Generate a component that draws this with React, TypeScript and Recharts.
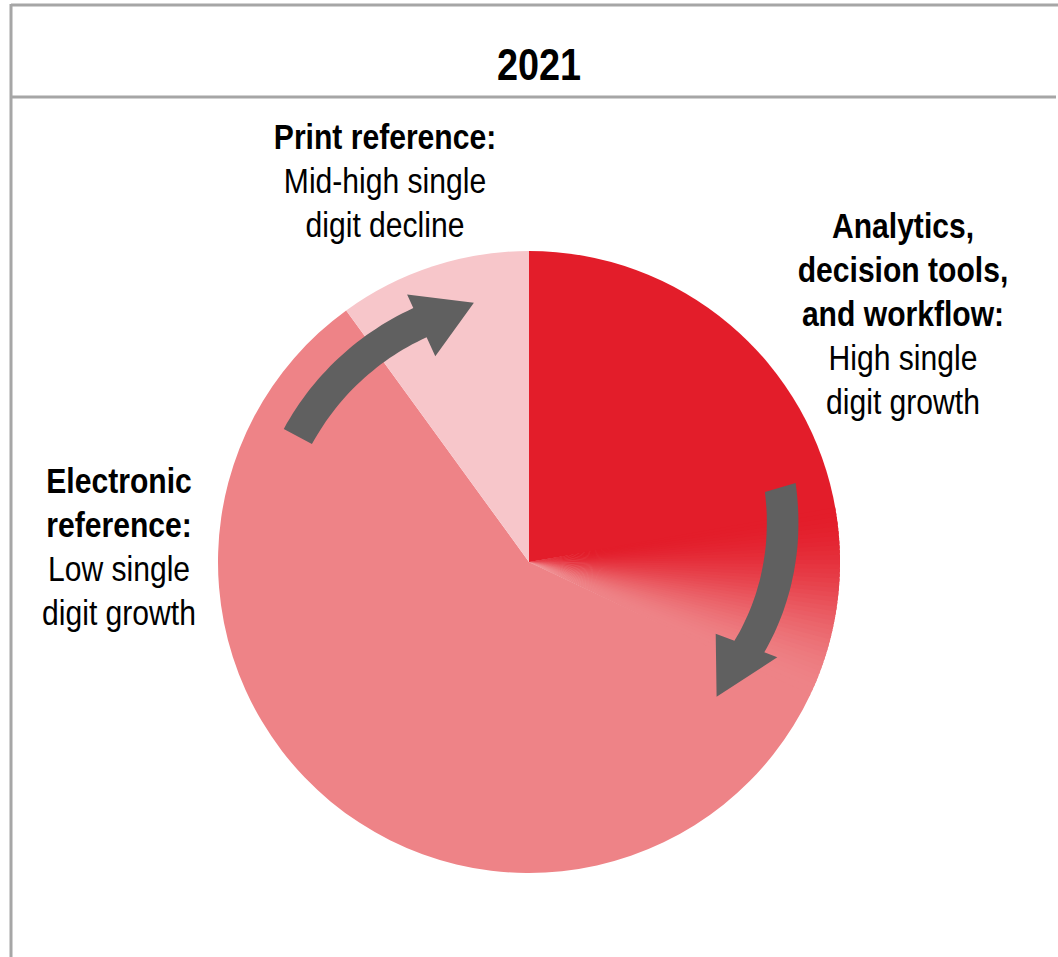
import { PieChart, Pie, Sector } from "recharts"

// data (share of the market, %)
const segments = ["Analytics, decision tools, and workflow", "Electronic reference", "Print reference"]
const shares = [32, 58, 10]

const titleText = "2021"
const labelHeads = [
  ["Analytics,", "decision tools,", "and workflow:"],
  ["Electronic", "reference:"],
  ["Print reference:"],
]
const labelBodies = [
  ["High single", "digit growth"],
  ["Low single", "digit growth"],
  ["Mid-high single", "digit decline"],
]

const COLORS = ["#E31D2A", "#EE8387", "#F7C6CA"]
const FONT = "'Liberation Sans', Arial, sans-serif"
const NARROW = 0.86
const W = 1058
const H = 957
const CX = 529
const CY = 562
const R = 311

const pieData = segments.map((name, i) => ({ name, value: shares[i] }))

function hexToRgb(h: string) {
  const n = parseInt(h.slice(1), 16)
  return [(n >> 16) & 255, (n >> 8) & 255, n & 255]
}

function mix(a: string, b: string, t: number) {
  const A = hexToRgb(a)
  const B = hexToRgb(b)
  return `rgb(${A.map((v, i) => Math.round(v + (B[i] - v) * t)).join(",")})`
}

// analytics slice fades into the electronic colour over its last part
function SliceShape(props: any) {
  const { index, endAngle } = props
  if (index !== 0) return <Sector {...props} stroke="none" />
  const blend = 35
  const solidEnd = endAngle + blend
  const steps = 40
  const parts = [<Sector key="solid" {...props} endAngle={solidEnd - 0.3} fill={COLORS[0]} stroke="none" />]
  for (let s = 0; s < steps; s++) {
    const a0 = solidEnd - (blend * s) / steps
    const a1 = solidEnd - (blend * (s + 1)) / steps
    const t = (s + 0.5) / steps
    const eased = t * t * (3 - 2 * t)
    parts.push(
      <Sector
        key={s}
        {...props}
        startAngle={a0 + 0.3}
        endAngle={a1 - 0.3}
        fill={mix(COLORS[0], COLORS[1], eased)}
        stroke="none"
      />
    )
  }
  return <g>{parts}</g>
}

function pt(angle: number, r: number) {
  const a = (angle * Math.PI) / 180
  return [CX + r * Math.sin(a), CY - r * Math.cos(a)]
}

// curved block arrow following the pie, angles clockwise from 12 o'clock
function arrowPath(a0: number, r0: number, a1: number, r1: number, half: number, wIn: number, wOut: number, tipA: number, tipR: number) {
  const n = 30
  const outer: number[][] = []
  const inner: number[][] = []
  for (let i = 0; i <= n; i++) {
    const t = i / n
    const a = a0 + (a1 - a0) * t
    const r = r0 + (r1 - r0) * t
    outer.push(pt(a, r + half))
    inner.push(pt(a, r - half))
  }
  const wingOut = pt(a1, r1 + wOut)
  const tip = pt(tipA, tipR)
  const wingIn = pt(a1, r1 - wIn)
  const pts = [...outer, wingOut, tip, wingIn, ...inner.reverse()]
  return "M" + pts.map((p) => p[0].toFixed(1) + "," + p[1].toFixed(1)).join("L") + "Z"
}

function NarrowText({ x, y, size, bold, children }: any) {
  return (
    <text
      transform={`translate(${x},${y}) scale(${NARROW},1)`}
      textAnchor="middle"
      fontFamily={FONT}
      fontSize={size}
      fontWeight={bold ? "bold" : "normal"}
      fill="#000"
    >
      {children}
    </text>
  )
}

function TextBlock({ x, y, heads, bodies }: any) {
  const lh = 44
  return (
    <g>
      {heads.map((l: string, i: number) => (
        <NarrowText key={"h" + i} x={x} y={y + i * lh} size={35} bold>{l}</NarrowText>
      ))}
      {bodies.map((l: string, i: number) => (
        <NarrowText key={"b" + i} x={x} y={y + (heads.length + i) * lh} size={35}>{l}</NarrowText>
      ))}
    </g>
  )
}

function Overlay() {
  return (
    <svg width={W} height={H} style={{ position: "absolute", left: 0, top: 0, pointerEvents: "none" }}>
      <line x1={11} y1={5} x2={W} y2={5} stroke="#A6A6A6" strokeWidth={3} />
      <line x1={11} y1={4} x2={11} y2={H} stroke="#A6A6A6" strokeWidth={3} />
      <line x1={11} y1={97} x2={1056} y2={97} stroke="#A6A6A6" strokeWidth={3} />
      <NarrowText x={539} y={80} size={44} bold>{titleText}</NarrowText>
      <TextBlock x={903} y={238} heads={labelHeads[0]} bodies={labelBodies[0]} />
      <TextBlock x={119} y={493} heads={labelHeads[1]} bodies={labelBodies[1]} />
      <TextBlock x={385} y={149} heads={labelHeads[2]} bodies={labelBodies[2]} />
      <path d={arrowPath(-61.5, 263, -24.5, 263, 16, 37, 31, -12, 265)} fill="#606060" />
      <path d={arrowPath(73.5, 262, 111, 236, 16, 36, 30, 125.7, 231)} fill="#606060" />
    </svg>
  )
}

export default function App() {
  return (
    <div style={{ position: "absolute", left: 0, top: 0, width: W, height: H, background: "#fff" }}>
      <PieChart width={W} height={H} margin={{ top: 0, right: 0, bottom: 0, left: 0 }}>
        <Pie
          data={pieData}
          dataKey="value"
          nameKey="name"
          cx={CX}
          cy={CY}
          outerRadius={R}
          innerRadius={0}
          startAngle={90}
          endAngle={-270}
          stroke="none"
          fill={COLORS[1]}
          shape={(p: any) => <SliceShape {...p} fill={COLORS[p.index]} />}
          isAnimationActive={false}
        />
      </PieChart>
      <Overlay />
    </div>
  )
}
